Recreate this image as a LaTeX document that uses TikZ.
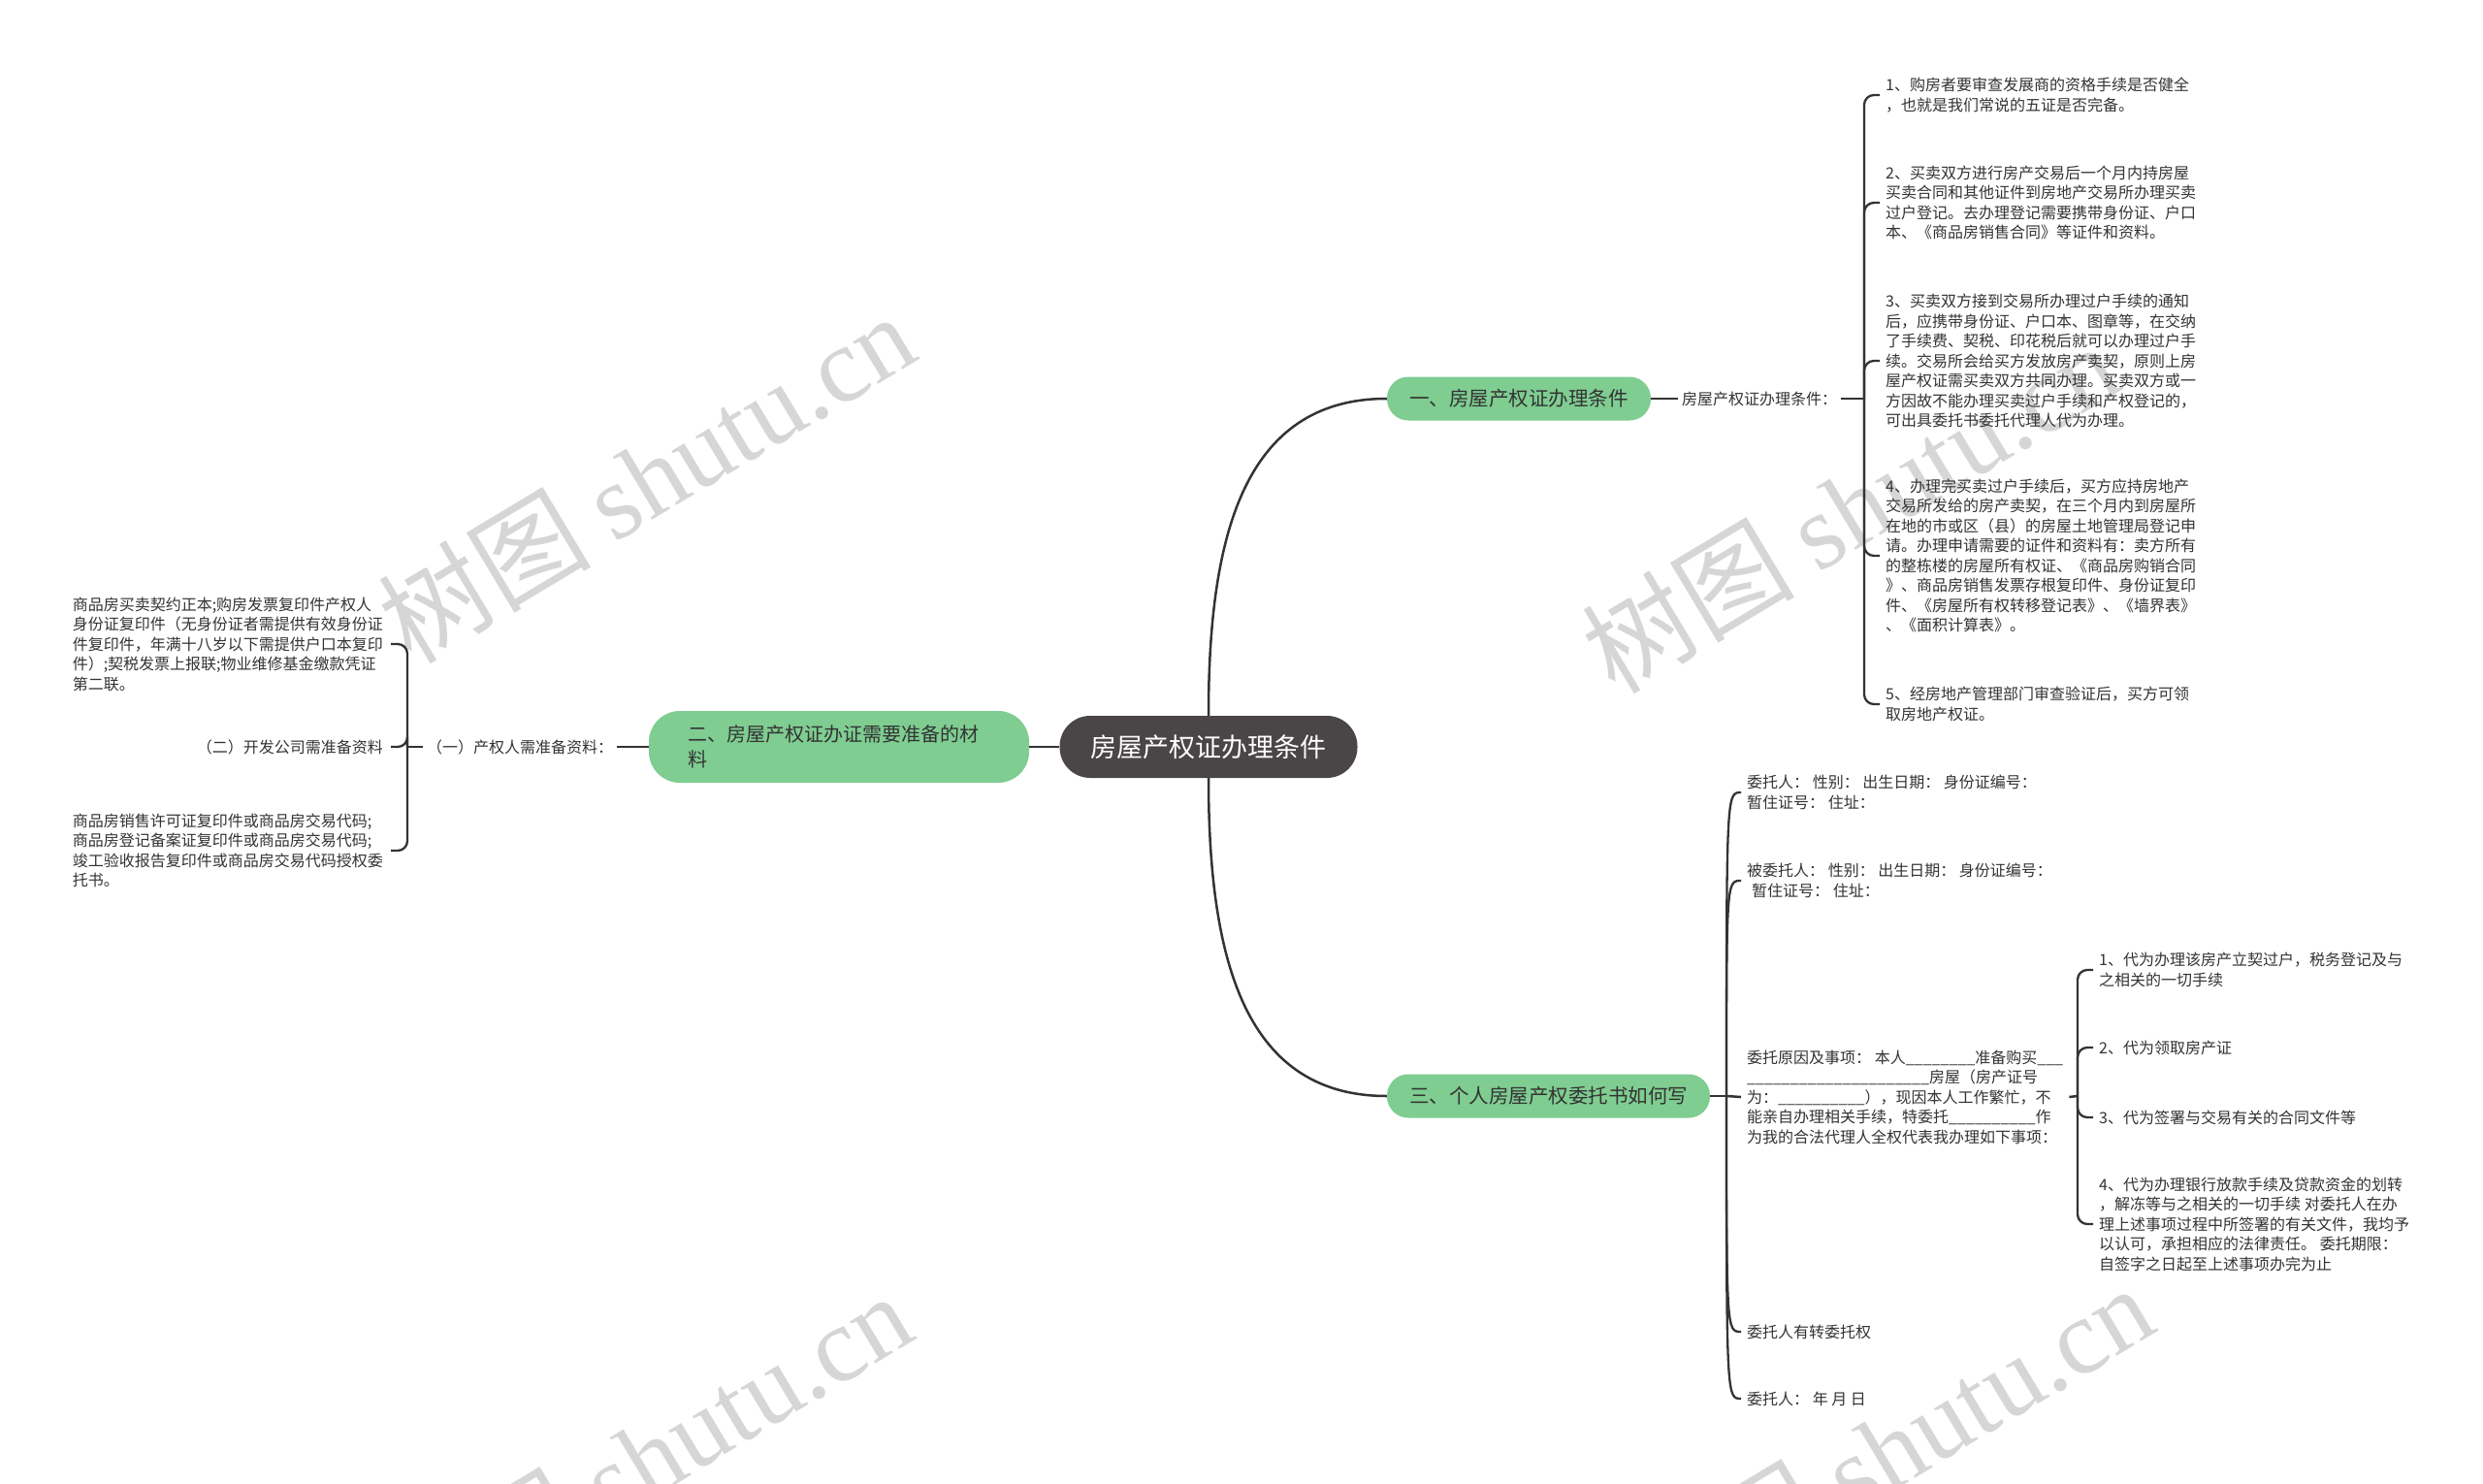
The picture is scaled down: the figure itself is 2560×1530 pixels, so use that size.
\documentclass[tikz,border=0pt]{standalone}
\usepackage{fontspec}
\setmainfont{Noto Sans CJK SC}
\newfontfamily\wmserif{Liberation Serif}
\usetikzlibrary{calc}
\definecolor{ink}{HTML}{333333}
\definecolor{bgreen}{HTML}{7FCD91}
\definecolor{darkc}{HTML}{4A4546}
\definecolor{wmc}{HTML}{D6D6D6}
\tikzset{
  txt/.style={font=\fontsize{16}{20.5}\selectfont, text=ink, align=left, inner xsep=6pt, inner ysep=2pt},
  conn/.style={draw=ink, line width=2.5pt},
  hook/.style={draw=ink, line width=2.3pt, rounded corners=10pt},
  bnode/.style={fill=bgreen, rounded corners=22pt, minimum height=45pt, font=\fontsize{20.5}{26}\selectfont, text=ink},
  wmark/.style={text=wmc, font=\fontsize{110}{120}\selectfont, rotate=31, inner sep=0pt}
}
\begin{document}
\begin{tikzpicture}[x=1pt,y=-1pt]
\useasboundingbox[fill=white] (0,0) rectangle (2560,1530);
% watermarks
\node[wmark] (wm1) at (666,492) {树图 {\wmserif shutu.cn}};
\node[wmark] (wm2) at (1907,523) {树图 {\wmserif shutu.cn}};
\node[wmark] (wm3) at (663,1502) {树图 {\wmserif shutu.cn}};
\node[wmark] (wm4) at (1943,1494) {树图 {\wmserif shutu.cn}};

% center and branches
\node[fill=darkc, rounded corners=31.5pt, minimum width=307pt, minimum height=64pt, text=white, font=\fontsize{27}{32}\selectfont] (c) at (1246,770) {房屋产权证办理条件};
\node[bnode, minimum width=272pt] (b1) at (1566,411) {一、房屋产权证办理条件};
\node[bnode, minimum width=333pt] (b3) at (1596.5,1130) {三、个人房屋产权委托书如何写};
\node[bnode, minimum width=392pt, minimum height=74pt, rounded corners=32pt, text width=312pt, align=left, font=\fontsize{20}{26}\selectfont] (b2) at (865,770) {二、房屋产权证办证需要准备的材\\料};

\draw[conn] (c.north) .. controls ($(c.north)+(0,-180)$) and ($(b1.west)+(-150,0)$) .. (b1.west);
\draw[conn] (c.south) .. controls ($(c.south)+(0,180)$) and ($(b3.west)+(-150,0)$) .. (b3.west);
\draw[conn] (c.west) -- (b2.east);

% section 1
\node[txt, inner xsep=4pt] (l1) at (1814,411) {房屋产权证办理条件：};
\coordinate (j1) at (1922,411);
\draw[conn] (b1.east) -- (l1.west);
\draw[conn] (l1.east) -- (j1);
\node[txt, anchor=west] (i1) at (1938,98) {1、购房者要审查发展商的资格手续是否健全\\，也就是我们常说的五证是否完备。};
\node[txt, anchor=west] (i2) at (1938,209) {2、买卖双方进行房产交易后一个月内持房屋\\买卖合同和其他证件到房地产交易所办理买卖\\过户登记。去办理登记需要携带身份证、户口\\本、《商品房销售合同》等证件和资料。};
\node[txt, anchor=west] (i3) at (1938,372) {3、买卖双方接到交易所办理过户手续的通知\\后，应携带身份证、户口本、图章等，在交纳\\了手续费、契税、印花税后就可以办理过户手\\续。交易所会给买方发放房产卖契，原则上房\\屋产权证需买卖双方共同办理。买卖双方或一\\方因故不能办理买卖过户手续和产权登记的，\\可出具委托书委托代理人代为办理。};
\node[txt, anchor=west] (i4) at (1938,573) {4、办理完买卖过户手续后，买方应持房地产\\交易所发给的房产卖契，在三个月内到房屋所\\在地的市或区（县）的房屋土地管理局登记申\\请。办理申请需要的证件和资料有：卖方所有\\的整栋楼的房屋所有权证、《商品房购销合同\\》、商品房销售发票存根复印件、身份证复印\\件、《房屋所有权转移登记表》、《墙界表》\\、《面积计算表》。};
\node[txt, anchor=west] (i5) at (1938,726) {5、经房地产管理部门审查验证后，买方可领\\取房地产权证。};
\foreach \n in {i1,i2,i3,i4,i5} \draw[hook] (j1) |- (\n.west);

% section 2
\node[txt, inner xsep=4pt] (l2) at (536,770) {（一）产权人需准备资料：};
\coordinate (j2) at (420,770);
\draw[conn] (b2.west) -- (l2.east);
\draw[conn] (l2.west) -- (j2);
\node[txt, anchor=east, inner xsep=8pt, text width=320pt] (a1) at (403,664) {商品房买卖契约正本;购房发票复印件产权人\\身份证复印件（无身份证者需提供有效身份证\\件复印件，年满十八岁以下需提供户口本复印\\件）;契税发票上报联;物业维修基金缴款凭证\\第二联。};
\node[txt, anchor=east, inner xsep=8pt] (a2) at (403,770) {（二）开发公司需准备资料};
\node[txt, anchor=east, inner xsep=8pt, text width=320pt] (a3) at (403,877) {商品房销售许可证复印件或商品房交易代码;\\商品房登记备案证复印件或商品房交易代码;\\竣工验收报告复印件或商品房交易代码授权委\\托书。};
\foreach \n in {a1,a2,a3} \draw[hook] (j2) |- (\n.east);

% section 3
\coordinate (j3) at (1780,1130);
\draw[conn] (b3.east) -- (j3);
\node[txt, anchor=west] (s1) at (1795,817) {委托人：\ 性别：\ 出生日期：\ 身份证编号：\\暂住证号：\ 住址：};
\node[txt, anchor=west] (s2) at (1795,908) {被委托人：\ 性别：\ 出生日期：\ 身份证编号：\\\hspace*{5pt}暂住证号：\ 住址：};
\node[txt, anchor=west] (s3) at (1795,1131) {委托原因及事项：\ 本人\_\_\_\_\_\_\_\_准备购买\_\_\_\\\_\_\_\_\_\_\_\_\_\_\_\_\_\_\_\_\_\_\_\_\_房屋（房产证号\\为：\_\_\_\_\_\_\_\_\_\_），现因本人工作繁忙，不\\能亲自办理相关手续，特委托\_\_\_\_\_\_\_\_\_\_作\\为我的合法代理人全权代表我办理如下事项：};
\node[txt, anchor=west] (s4) at (1795,1373) {委托人有转委托权};
\node[txt, anchor=west] (s5) at (1795,1442) {委托人：\ 年 月 日};
\foreach \n in {s1,s2,s4,s5} \draw[hook] (j3) .. controls (j3 |- \n.west) .. (\n.west);
\draw[conn] (j3) -- (s3.west);

% sub bracket
\coordinate (j4) at (2142,1130);
\draw[conn] (s3.east) -- (j4);
\node[txt, anchor=west] (t1) at (2158,1000) {1、代为办理该房产立契过户，税务登记及与\\之相关的一切手续};
\node[txt, anchor=west] (t2) at (2158,1080) {2、代为领取房产证};
\node[txt, anchor=west] (t3) at (2158,1152) {3、代为签署与交易有关的合同文件等};
\node[txt, anchor=west] (t4) at (2158,1262) {4、代为办理银行放款手续及贷款资金的划转\\，解冻等与之相关的一切手续 对委托人在办\\理上述事项过程中所签署的有关文件，我均予\\以认可，承担相应的法律责任。 委托期限：\\自签字之日起至上述事项办完为止};
\foreach \n in {t1,t2,t3,t4} \draw[hook] (j4) |- (\n.west);
\end{tikzpicture}
\end{document}
